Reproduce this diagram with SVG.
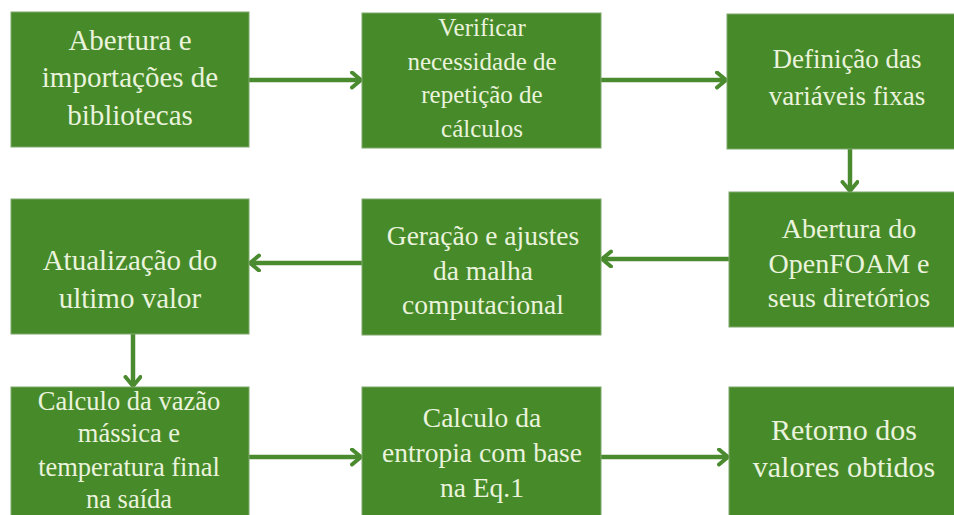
<svg xmlns="http://www.w3.org/2000/svg" width="954" height="515" viewBox="0 0 954 515">
<style>
.box{fill:#478a2a;stroke:#7fa86a;stroke-width:1}
text{font-family:"Liberation Serif","Times New Roman",Times,Tinos,"DejaVu Serif",serif;fill:#eaf3dc;text-anchor:middle}
.c{stroke:#4b8b30;stroke-width:4.5;fill:none}
</style>
<defs>
<marker id="ah" markerUnits="userSpaceOnUse" markerWidth="16" markerHeight="20" refX="11" refY="9" orient="auto">
<path d="M2,1.5 L11,9 L2,16.5" fill="none" stroke="#4b8b30" stroke-width="4" stroke-linecap="round" stroke-linejoin="round"/>
</marker>
</defs>
<rect width="954" height="515" fill="#ffffff"/>
<g id="connectors">
<line class="c" x1="249" y1="80" x2="361" y2="80" marker-end="url(#ah)"/>
<line class="c" x1="601" y1="80" x2="726" y2="80" marker-end="url(#ah)"/>
<line class="c" x1="850" y1="149" x2="850" y2="191" marker-end="url(#ah)"/>
<line class="c" x1="729" y1="259" x2="602" y2="259" marker-end="url(#ah)"/>
<line class="c" x1="362" y1="263" x2="250" y2="263" marker-end="url(#ah)"/>
<line class="c" x1="133" y1="334" x2="133" y2="386" marker-end="url(#ah)"/>
<line class="c" x1="249" y1="457" x2="361" y2="457" marker-end="url(#ah)"/>
<line class="c" x1="601" y1="457" x2="728" y2="457" marker-end="url(#ah)"/>
</g>
<g id="n1">
<rect class="box" x="11" y="12" width="238" height="135"/>
<text font-size="29"><tspan x="130" y="50">Abertura e</tspan><tspan x="130" y="87">importações de</tspan><tspan x="130" y="125">bibliotecas</tspan></text>
</g>
<g id="n2">
<rect class="box" x="362" y="13" width="239" height="135"/>
<text font-size="25"><tspan x="482" y="36">Verificar</tspan><tspan x="482" y="70">necessidade de</tspan><tspan x="482" y="103">repetição de</tspan><tspan x="482" y="137">cálculos</tspan></text>
</g>
<g id="n3">
<rect class="box" x="727" y="14" width="240" height="135"/>
<text font-size="27"><tspan x="847" y="68">Definição das</tspan><tspan x="847" y="105">variáveis fixas</tspan></text>
</g>
<g id="n4">
<rect class="box" x="11" y="199" width="238" height="135"/>
<text font-size="29"><tspan x="130" y="270">Atualização do</tspan><tspan x="130" y="308">ultimo valor</tspan></text>
</g>
<g id="n5">
<rect class="box" x="362" y="199" width="239" height="136"/>
<text font-size="27.5"><tspan x="483" y="245">Geração e ajustes</tspan><tspan x="483" y="280">da malha</tspan><tspan x="483" y="314">computacional</tspan></text>
</g>
<g id="n6">
<rect class="box" x="729" y="192" width="240" height="135"/>
<text font-size="28"><tspan x="849" y="238">Abertura do</tspan><tspan x="849" y="273">OpenFOAM e</tspan><tspan x="849" y="307">seus diretórios</tspan></text>
</g>
<g id="n7">
<rect class="box" x="11" y="387" width="238" height="140"/>
<text font-size="26.5"><tspan x="129" y="410">Calculo da vazão</tspan><tspan x="129" y="442">mássica e</tspan><tspan x="129" y="476">temperatura final</tspan><tspan x="129" y="508">na saída</tspan></text>
</g>
<g id="n8">
<rect class="box" x="362" y="387" width="239" height="140"/>
<text font-size="27.5"><tspan x="482" y="427">Calculo da</tspan><tspan x="482" y="462">entropia com base</tspan><tspan x="482" y="497">na Eq.1</tspan></text>
</g>
<g id="n9">
<rect class="box" x="729" y="387" width="240" height="140"/>
<text font-size="30"><tspan x="844" y="440">Retorno dos</tspan><tspan x="844" y="477">valores obtidos</tspan></text>
</g>
</svg>
